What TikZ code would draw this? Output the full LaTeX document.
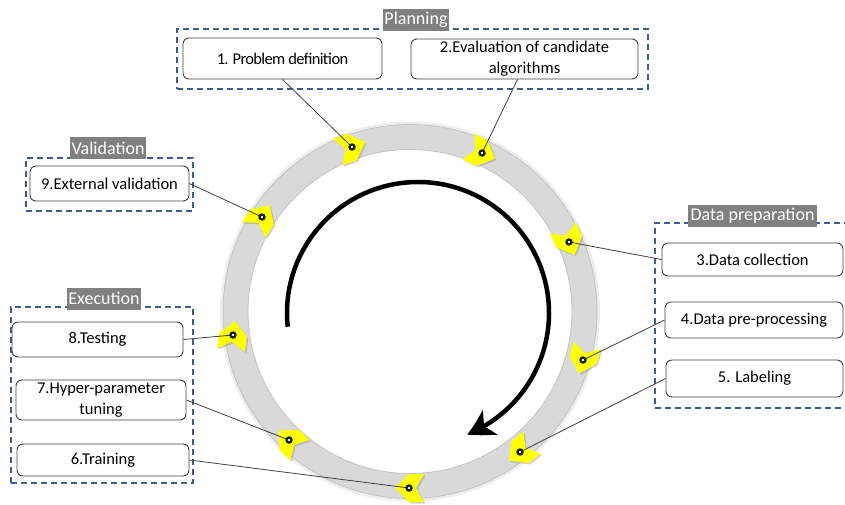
\documentclass[tikz,border=0pt]{standalone}
\usepackage{fontspec}
\setmainfont{Carlito}
\usetikzlibrary{arrows.meta,shadows,bending}
\definecolor{dashblue}{HTML}{3B5B95}
\definecolor{navy}{HTML}{17213A}
\definecolor{ringgray}{HTML}{D9D9D9}
\definecolor{ringedge}{HTML}{C4C4C4}
\definecolor{labelgray}{HTML}{808080}
\definecolor{linegray}{HTML}{404040}
\definecolor{chevyellow}{HTML}{FFFF00}
\begin{document}
\begin{tikzpicture}[x=1pt,y=-1pt,
  stepbox/.style={draw=black!75, line width=0.9pt, rounded corners=6pt, fill=white,
    align=center, inner sep=0pt, font=\fontsize{16.5}{21}\selectfont, text=black},
  grp/.style={draw=dashblue, line width=1.4pt, dash pattern=on 6pt off 4pt, inner sep=0pt},
  grplabel/.style={fill=labelgray, text=white, inner sep=0pt, font=\fontsize{18}{20}\selectfont},
  conn/.style={draw=linegray, line width=0.8pt},
  dotn/.style={circle, draw=navy, line width=2.3pt, fill=white, inner sep=0pt, minimum size=5pt},
  chev/.pic={\fill[chevyellow, drop shadow={shadow xshift=1.5pt,shadow yshift=-1.5pt,opacity=0.35}]
     (14,0) -- (0,14) -- (-15,14) -- (-7,0) -- (-15,-14) -- (0,-14) -- cycle;}]
\useasboundingbox (0,0) rectangle (845,504);
\clip (0,0) rectangle (845,504);

% ring
\draw[black!7, line width=3pt] (410,311.5) circle[radius=188.5];
\fill[ringgray, even odd rule] (410,311.5) circle[radius=187] (410,311.5) circle[radius=162];
\draw[ringedge, line width=0.8pt] (410,311.5) circle[radius=187];
\draw[ringedge, line width=0.8pt] (410,311.5) circle[radius=162];

% inner arrow
\draw[line width=4.5pt, -{Stealth[length=26pt,width=28pt,inset=7pt,bend]}]
  (418,313) ++(-186:131) arc[start angle=-186, end angle=68, radius=131];

% chevrons
\pic[rotate=19.5]  at (352,147) {chev};
\pic[rotate=-24.5] at (482,153) {chev};
\pic[rotate=-66.5] at (569,242) {chev};
\pic[rotate=-105.8] at (583,360) {chev};
\pic[rotate=-142]  at (520,452) {chev};
\pic[rotate=-180.3] at (409,488) {chev};
\pic[rotate=137]   at (289,440) {chev};
\pic[rotate=82]    at (233,335) {chev};
\pic[rotate=57.6]  at (262,217) {chev};

% group frames
\node[grp, minimum width=471pt, minimum height=60pt] (gplan) at (412.5,59) {};
\node[grp, minimum width=167pt, minimum height=53pt] (gval) at (109.5,184.5) {};
\node[grp, minimum width=200pt, minimum height=185pt] (gdata) at (755,315.5) {};
\node[grp, minimum width=182pt, minimum height=176pt] (gexec) at (102,395) {};

% group labels
\node[grplabel, minimum width=66pt, minimum height=22pt] (lplan) at (416,20) {Planning};
\node[grplabel, minimum width=76pt, minimum height=22pt] (lval) at (108,148) {Validation};
\node[grplabel, minimum width=129pt, minimum height=22pt] (ldata) at (752.5,216) {Data preparation};
\node[grplabel, minimum width=74pt, minimum height=22pt] (lexec) at (104,298.5) {Execution};

% step boxes
\node[stepbox, minimum width=199pt, minimum height=41pt] (b1) at (282.5,58.5) {\addfontfeature{LetterSpace=-4}1. Problem definition};
\node[stepbox, minimum width=227pt, minimum height=40pt] (b2) at (524.5,59) {2.Evaluation of candidate\\algorithms};
\node[stepbox, minimum width=181pt, minimum height=33pt] (b3) at (752.5,259.5) {3.Data collection};
\node[stepbox, minimum width=178pt, minimum height=36pt] (b4) at (754,320) {4.Data pre-processing};
\node[stepbox, minimum width=177pt, minimum height=37pt] (b5) at (754.5,378.5) {5. Labeling};
\node[stepbox, minimum width=172pt, minimum height=32pt] (b6) at (103,460) {6.Training};
\node[stepbox, minimum width=170pt, minimum height=40pt] (b7) at (101,400) {7.Hyper-parameter\\tuning};
\node[stepbox, minimum width=171pt, minimum height=35pt] (b8) at (97.5,339.5) {8.Testing};
\node[stepbox, minimum width=159pt, minimum height=35pt] (b9) at (109.5,183.5) {9.External validation};

% dots
\coordinate (d1) at (352,147);
\coordinate (d2) at (482,153);
\coordinate (d3) at (569,242);
\coordinate (d4) at (583,360);
\coordinate (d5) at (520,452);
\coordinate (d6) at (409,488);
\coordinate (d7) at (289,440);
\coordinate (d8) at (233,335);
\coordinate (d9) at (262,217);

% connectors
\draw[conn] (b1.south) -- (d1);
\draw[conn] ([xshift=-7pt]b2.south) -- (d2);
\draw[conn] (b3.west) -- (d3);
\draw[conn] (b4.west) -- (d4);
\draw[conn] (b5.west) -- (d5);
\draw[conn] (b6.east) -- (d6);
\draw[conn] (b7.east) -- (d7);
\draw[conn] (b8.east) -- (d8);
\draw[conn] (b9.east) -- (d9);

\foreach \d in {d1,d2,d3,d4,d5,d6,d7,d8,d9}
  \node[dotn] (m\d) at (\d) {};
\end{tikzpicture}
\end{document}
